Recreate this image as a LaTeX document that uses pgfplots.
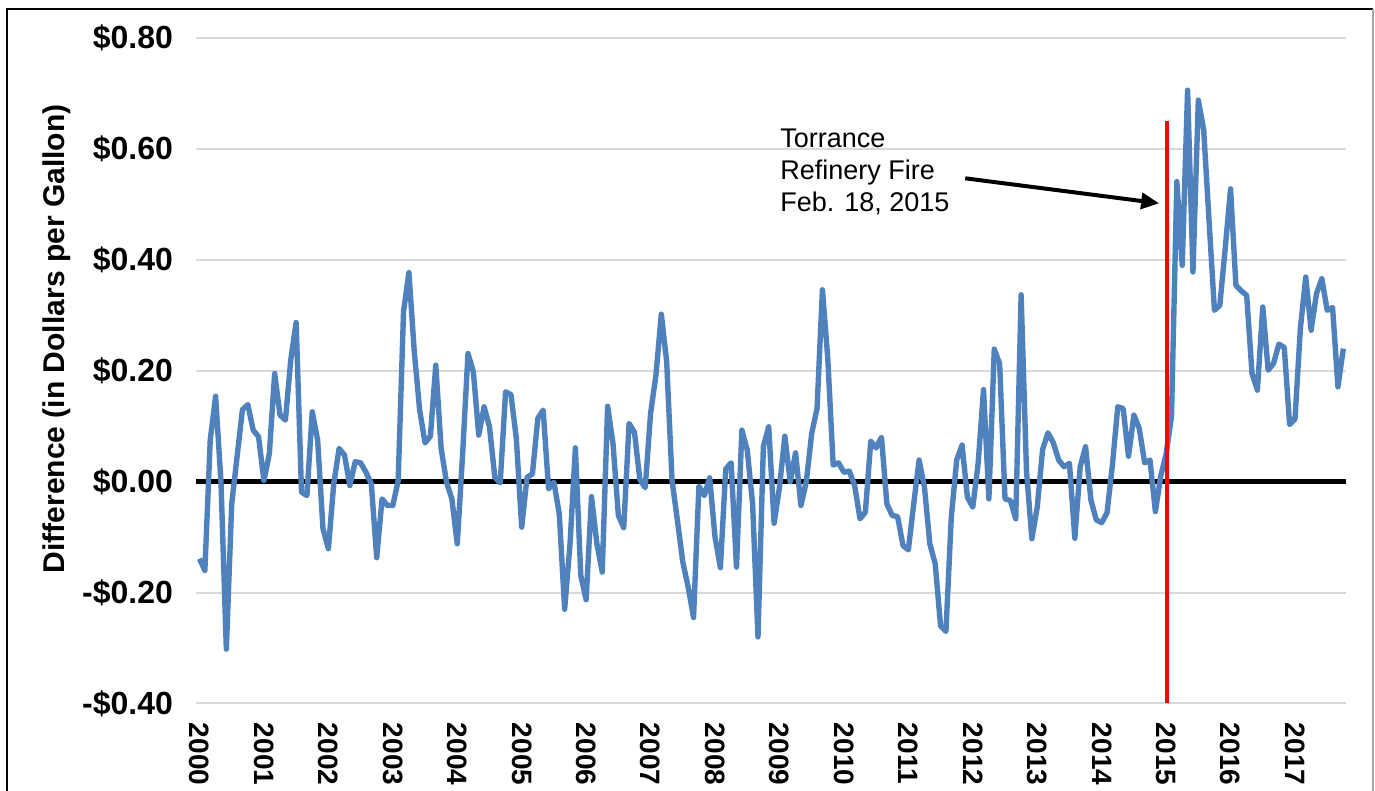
\documentclass[border=0pt]{standalone}
\usepackage{pgfplots}
\pgfplotsset{compat=1.18}
\usepackage{pgfplotstable}
\usepackage{fontspec}
\setmainfont{Liberation Sans}
\usetikzlibrary{arrows.meta}
\definecolor{lineblue}{HTML}{4F81BD}
\definecolor{gridgray}{HTML}{D9D9D9}

\pgfplotstableread{
m v
0 -0.139
1 -0.160
2 0.075
3 0.154
4 0.000
5 -0.302
6 -0.040
7 0.045
8 0.130
9 0.139
10 0.093
11 0.081
12 0.002
13 0.050
14 0.195
15 0.120
16 0.111
17 0.220
18 0.287
19 -0.019
20 -0.025
21 0.126
22 0.075
23 -0.085
24 -0.121
25 -0.004
26 0.060
27 0.048
28 -0.007
29 0.036
30 0.034
31 0.017
32 -0.004
33 -0.137
34 -0.031
35 -0.043
36 -0.043
37 0.002
38 0.307
39 0.377
40 0.234
41 0.129
42 0.070
43 0.082
44 0.210
45 0.060
46 -0.001
47 -0.031
48 -0.112
49 0.050
50 0.231
51 0.198
52 0.084
53 0.135
54 0.099
55 0.008
56 -0.002
57 0.162
58 0.157
59 0.078
60 -0.082
61 0.008
62 0.014
63 0.114
64 0.129
65 -0.013
66 -0.001
67 -0.058
68 -0.230
69 -0.112
70 0.061
71 -0.169
72 -0.213
73 -0.027
74 -0.112
75 -0.163
76 0.136
77 0.069
78 -0.061
79 -0.083
80 0.105
81 0.089
82 0.004
83 -0.011
84 0.123
85 0.192
86 0.302
87 0.216
88 0.002
89 -0.070
90 -0.145
91 -0.190
92 -0.245
93 -0.008
94 -0.025
95 0.007
96 -0.100
97 -0.155
98 0.023
99 0.034
100 -0.154
101 0.093
102 0.057
103 -0.040
104 -0.280
105 0.063
106 0.099
107 -0.075
108 -0.010
109 0.082
110 0.000
111 0.052
112 -0.043
113 0.000
114 0.087
115 0.132
116 0.346
117 0.222
118 0.030
119 0.034
120 0.017
121 0.019
122 -0.007
123 -0.067
124 -0.055
125 0.073
126 0.061
127 0.080
128 -0.040
129 -0.061
130 -0.063
131 -0.115
132 -0.123
133 -0.040
134 0.039
135 -0.010
136 -0.112
137 -0.148
138 -0.260
139 -0.270
140 -0.064
141 0.039
142 0.066
143 -0.028
144 -0.046
145 0.033
146 0.166
147 -0.031
148 0.239
149 0.213
150 -0.031
151 -0.034
152 -0.067
153 0.337
154 0.020
155 -0.103
156 -0.046
157 0.058
158 0.088
159 0.070
160 0.039
161 0.027
162 0.033
163 -0.102
164 0.027
165 0.063
166 -0.033
167 -0.069
168 -0.074
169 -0.056
170 0.030
171 0.135
172 0.132
173 0.046
174 0.120
175 0.096
176 0.034
177 0.039
178 -0.054
179 0.010
180 0.050
181 0.117
182 0.541
183 0.390
184 0.706
185 0.378
186 0.688
187 0.634
188 0.470
189 0.309
190 0.318
191 0.420
192 0.528
193 0.354
194 0.344
195 0.336
196 0.195
197 0.165
198 0.315
199 0.201
200 0.213
201 0.248
202 0.242
203 0.103
204 0.113
205 0.276
206 0.369
207 0.273
208 0.339
209 0.366
210 0.309
211 0.314
212 0.171
213 0.240
}\diffdata

\begin{document}
\begin{tikzpicture}
\useasboundingbox (-98pt,-43.75pt) rectangle (589.5pt,351.75pt);
\clip (-98pt,-43.75pt) rectangle (589.5pt,351.75pt);
\begin{axis}[
  at={(0pt,0pt)}, anchor=south west,
  scale only axis, width=575pt, height=332.75pt,
  xmin=-0.65, xmax=213.5, ymin=-0.4, ymax=0.8,
  axis line style={draw=none},
  major tick length=0pt,
  xtick={0,12,24,36,48,60,72,84,96,108,120,132,144,156,168,180,192,204},
  xticklabels={2000,2001,2002,2003,2004,2005,2006,2007,2008,2009,2010,2011,2012,2013,2014,2015,2016,2017},
  ytick={-0.4,-0.2,0,0.2,0.4,0.6,0.8},
  yticklabels={-\$0.40,-\$0.20,\$0.00,\$0.20,\$0.40,\$0.60,\$0.80},
  ymajorgrids, grid style={gridgray, line width=1pt},
  yticklabel style={font=\fontsize{16}{19}\selectfont\bfseries, xshift=-8pt},
  xticklabel style={font=\fontsize{14}{17}\selectfont\bfseries, rotate=-90, anchor=west, inner xsep=9.5pt},
  ylabel={Difference (in Dollars per Gallon)},
  ylabel style={font=\fontsize{15}{18}\selectfont\bfseries, at={(rel axis cs:-0.1209,0.548)}, anchor=center},
  clip=false,
]
\addplot[black, line width=2.8pt, forget plot] coordinates {(-0.65,0) (213.5,0)};
\addplot[lineblue, line width=2.7pt, line join=round, mark=none] table[x=m, y=v] {\diffdata};
\addplot[red, line width=2pt, forget plot] coordinates {(180.1,-0.4) (180.1,0.651)};
\draw[black, line width=2pt, -{Triangle[length=9pt,width=8pt]}] (axis cs:142.6,0.547) -- (axis cs:178.7,0.502);
\node[anchor=west, align=left, inner sep=0pt, font=\fontsize{13.5}{16}\selectfont] at (axis cs:108.1,0.558) {Torrance\\Refinery Fire\\Feb. 18, 2015};
\end{axis}
\draw[black, line width=1.3pt] (-94.5pt,-43.75pt) -- (-94.5pt,347.25pt) -- (588.5pt,347.25pt);
\draw[black!35, line width=0.6pt] (588.5pt,347.25pt) -- (588.5pt,-43.75pt);
\end{tikzpicture}
\end{document}
